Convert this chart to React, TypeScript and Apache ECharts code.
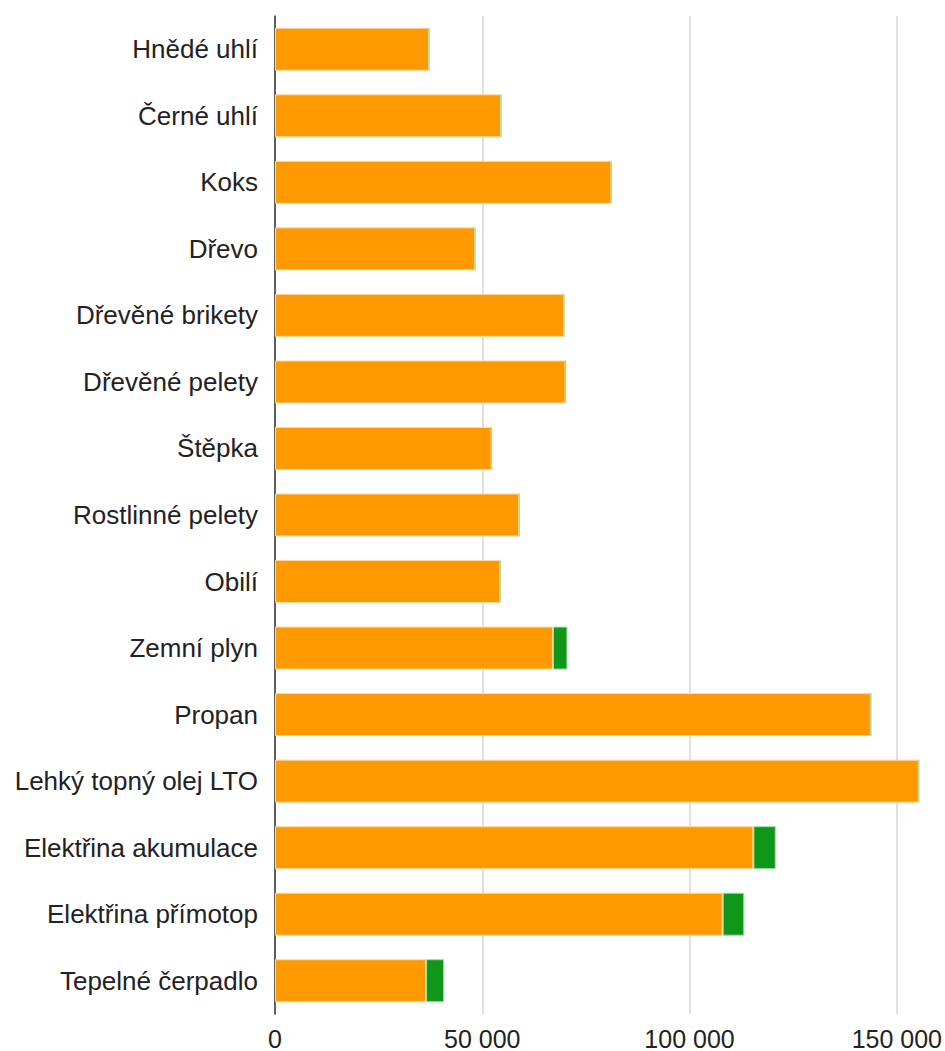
import React, { useEffect, useRef } from "react";
import * as echarts from "echarts";

const categories = [
  "Hnědé uhlí",
  "Černé uhlí",
  "Koks",
  "Dřevo",
  "Dřevěné brikety",
  "Dřevěné pelety",
  "Štěpka",
  "Rostlinné pelety",
  "Obilí",
  "Zemní plyn",
  "Propan",
  "Lehký topný olej LTO",
  "Elektřina akumulace",
  "Elektřina přímotop",
  "Tepelné čerpadlo",
];

const fuelCost = [
  37150, 54500, 81150, 48250, 69700, 70100, 52250, 58900, 54400, 67050,
  143750, 155300, 115400, 108000, 36450,
];

const fixedCost = [0, 0, 0, 0, 0, 0, 0, 0, 0, 3500, 0, 0, 5400, 5200, 4350];

const axisMax = 160000;
const axisInterval = 50000;

export default function App() {
  const ref = useRef<HTMLDivElement>(null);

  useEffect(() => {
    if (!ref.current) return;
    const chart = echarts.init(ref.current, undefined, { renderer: "svg" });
    chart.setOption({
      animation: false,
      grid: { left: 275, right: 6, top: 16, bottom: 37, containLabel: false },
      xAxis: {
        type: "value",
        min: 0,
        max: axisMax,
        interval: axisInterval,
        axisLine: { show: false },
        axisTick: { show: false },
        splitLine: {
          show: true,
          showMaxLine: false,
          lineStyle: { color: "#d6d6d6", width: 1.5 },
        },
        axisLabel: {
          show: true,
          showMaxLabel: false,
          margin: 12,
          lineHeight: 25,
          color: "#222",
          fontFamily: "Liberation Sans, Arial, sans-serif",
          fontSize: 25,
          formatter: (v: number) =>
            String(v).replace(/\B(?=(\d{3})+(?!\d))/g, " "),
        },
      },
      yAxis: {
        type: "category",
        inverse: true,
        data: categories,
        axisLine: { show: true, lineStyle: { color: "#333", width: 1.5 } },
        axisTick: { show: false },
        axisLabel: {
          margin: 17,
          color: "#222",
          fontFamily: "Liberation Sans, Arial, sans-serif",
          fontSize: 26,
        },
      },
      series: [
        {
          type: "bar",
          stack: "total",
          data: fuelCost,
          barWidth: 43,
          itemStyle: {
            color: "#FF9900",
            borderColor: "#ffd9a0",
            borderWidth: 1,
          },
        },
        {
          type: "bar",
          stack: "total",
          data: fixedCost,
          barWidth: 43,
          itemStyle: {
            color: "#109618",
            borderColor: "#9fe0a3",
            borderWidth: 1,
          },
        },
      ],
    });
    return () => chart.dispose();
  }, []);

  return (
    <div
      ref={ref}
      style={{ position: "fixed", left: 0, top: 0, width: 945, height: 1051, background: "#fff" }}
    />
  );
}
